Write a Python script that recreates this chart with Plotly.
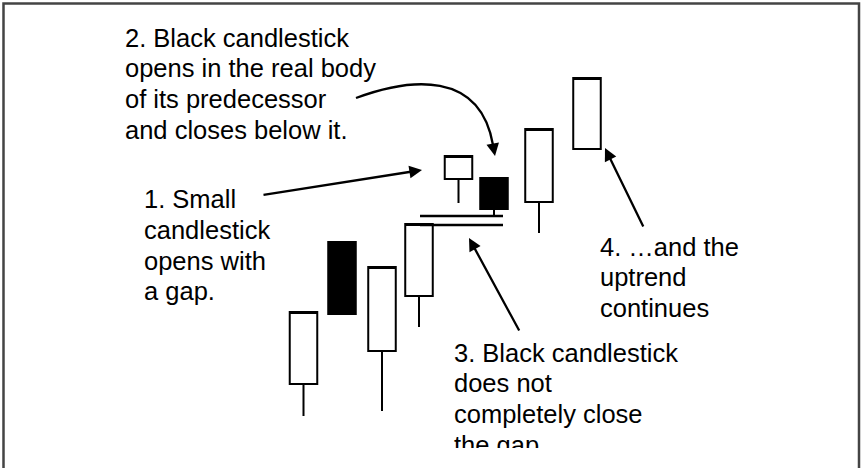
"""
Rising window pattern sketch: candlesticks with callout notes and arrows.
"""

import plotly.graph_objects as go

# Candle positions (x) and prices (price axis grows upward)
candle_x = [303.5, 342, 382, 419, 458.5, 494, 539, 587]
candle_open = [84, 226, 117, 172, 289, 290, 266, 319]
candle_close = [156, 154, 201, 244, 312, 259, 339, 390]
candle_high = [156, 226, 201, 244, 312, 290, 339, 390]
candle_low = [52, 154, 57, 141, 265, 253, 235, 319]

# Gap markers: black candle's low and the earlier candle's high
gap_levels = [252, 243]
gap_span = [420, 503]

# Callout texts, one entry per line
note_1 = ["1. Small", "candlestick", "opens with", "a gap."]
note_2 = ["2. Black candlestick", "opens in the real body", "of its predecessor", "and closes below it."]
note_3 = ["3. Black candlestick", "does not", "completely close", "the gap."]
note_4 = ["4. \u2026and the", "uptrend", "continues"]

WIDTH, HEIGHT = 862, 468
BOTTOM_CUT = 20          # text box of note 3 is cut off here
FONT = "Liberation Sans, Arial, sans-serif"
FONT_SIZE = 25.5
LINE_STEP = 30.7


def to_price(y_px):
    """Convert a pixel row into the price scale used by the axes."""
    return HEIGHT - y_px


def note_points(lines, left, first_baseline):
    """Place each line of a note; scatter text sits 0.25em above baseline."""
    xs, ys = [], []
    for i, _ in enumerate(lines):
        base = first_baseline + i * LINE_STEP
        xs.append(left)
        ys.append(to_price(base - 0.25 * FONT_SIZE))
    return xs, ys


def build_figure() -> go.Figure:
    fig = go.Figure()

    fig.add_trace(go.Candlestick(
        x=candle_x,
        open=candle_open,
        high=candle_high,
        low=candle_low,
        close=candle_close,
        increasing=dict(line=dict(color="black", width=2), fillcolor="white"),
        decreasing=dict(line=dict(color="black", width=2), fillcolor="black"),
        whiskerwidth=0,
        hoverinfo="skip",
    ))

    # the two horizontal lines showing the unfilled gap
    for level in gap_levels:
        fig.add_trace(go.Scatter(
            x=gap_span,
            y=[level, level],
            mode="lines",
            line=dict(color="black", width=2.5),
            hoverinfo="skip",
        ))

    # callout notes (as text trace so the last line of note 3 gets clipped)
    xs, ys, texts = [], [], []
    for lines, left, base in [
        (note_2, 125, 46.7),
        (note_1, 144, 208.3),
        (note_3, 454, 361.7),
        (note_4, 600, 255.7),
    ]:
        nx, ny = note_points(lines, left, base)
        xs += nx
        ys += ny
        texts += lines
    fig.add_trace(go.Scatter(
        x=xs,
        y=ys,
        text=texts,
        mode="text",
        textposition="middle right",
        textfont=dict(family=FONT, size=FONT_SIZE, color="black"),
        cliponaxis=True,
        hoverinfo="skip",
    ))

    # straight arrows: (tail, head) in chart units
    arrows = [
        ((262, 273), (422, 298)),
        ((520, 136), (469, 230)),
        ((644, 240), (605, 320)),
        ((493, 323), (495, 312)),   # head of the curved arrow
    ]
    for (tx, ty), (hx, hy) in arrows:
        fig.add_annotation(
            x=hx, y=hy, ax=tx, ay=ty,
            xref="x", yref="y", axref="x", ayref="y",
            text="", showarrow=True,
            arrowhead=2, arrowsize=1.1, arrowwidth=2.3,
            arrowcolor="black", standoff=0, startstandoff=0,
        )

    # curved arrow body from note 2 down to the black candle
    fig.add_shape(
        type="path",
        path="M 356,370 C 410,390 480,398 493,323",
        xref="x", yref="y",
        line=dict(color="black", width=2.3),
    )

    # outer frame (bottom edge falls outside the picture)
    plot_h = HEIGHT - BOTTOM_CUT
    fig.add_shape(
        type="rect",
        xref="paper", yref="paper",
        x0=3.5 / WIDTH, x1=859 / WIDTH,
        y0=-0.2, y1=1 - 3.5 / plot_h,
        line=dict(color="#444444", width=2.5),
        fillcolor="rgba(0,0,0,0)",
    )

    fig.update_layout(
        width=WIDTH,
        height=HEIGHT,
        margin=dict(l=0, r=0, t=0, b=BOTTOM_CUT, pad=0),
        paper_bgcolor="white",
        plot_bgcolor="white",
        showlegend=False,
        boxgap=0.225,
        boxgroupgap=0,
        hovermode=False,
    )
    fig.update_xaxes(range=[0, WIDTH], visible=False, rangeslider_visible=False,
                     fixedrange=True)
    fig.update_yaxes(range=[BOTTOM_CUT, HEIGHT], visible=False, fixedrange=True)

    return fig


fig = build_figure()
# drop the browser's default page margin so the figure fills the window
fig.write_html("out.html", config={"displayModeBar": False},
               post_script="document.body.style.margin='0';")
